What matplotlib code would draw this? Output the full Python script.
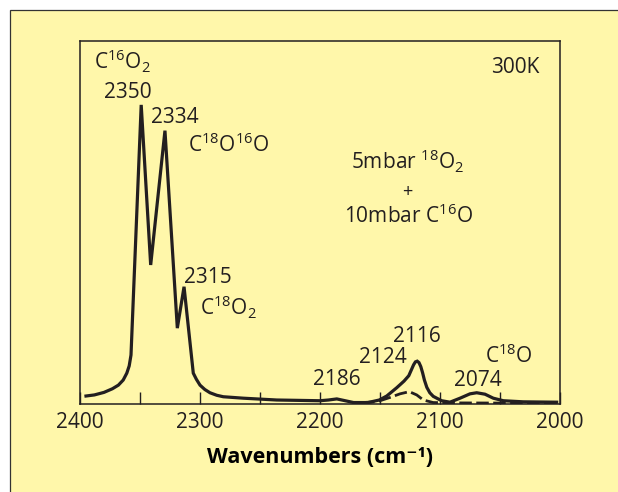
"""
IR spectrum of 18O2 + C16O at 300 K, redrawn in matplotlib.
"""
import matplotlib
matplotlib.use("Agg")
import matplotlib.pyplot as plt
from matplotlib.patches import Rectangle
from matplotlib.ticker import MultipleLocator

C_INK = "#231f20"
C_PAPER = "#fff7aa"

# solid trace: wavenumber (cm-1) vs absorbance (arb. units)
solid_wn = [2395, 2388, 2380, 2373, 2368, 2364, 2361, 2359, 2357.5, 2349,
            2341.1, 2329.2, 2318.9, 2313.3, 2305.6, 2303, 2300, 2296,
            2291.7, 2286, 2280.6, 2263.9, 2236.1, 2200, 2193, 2186, 2179,
            2172, 2160, 2150.6, 2144.4, 2136, 2130, 2126, 2123.6, 2122,
            2120.5, 2119, 2117.5, 2116, 2114.5, 2113, 2111, 2108.5, 2105.6,
            2098.6, 2091.7, 2083.3, 2075, 2069.4, 2062.5, 2055.6, 2047.2,
            2030.6, 2002.8]
solid_abs = [0.022, 0.025, 0.032, 0.042, 0.052, 0.066, 0.085, 0.105, 0.135,
             0.824, 0.383, 0.753, 0.209, 0.323, 0.085, 0.068, 0.052, 0.040,
             0.031, 0.024, 0.020, 0.016, 0.011, 0.009, 0.011, 0.014, 0.009,
             0.004, 0.004, 0.011, 0.022, 0.045, 0.063, 0.078, 0.096, 0.108,
             0.116, 0.118, 0.114, 0.103, 0.086, 0.066, 0.046, 0.031, 0.021,
             0.009, 0.005, 0.016, 0.028, 0.031, 0.027, 0.016, 0.009,
             0.006, 0.005]

# dashed trace (reference)
dash_wn = [2165, 2152.8, 2141.7, 2133.3, 2125.6, 2119.4, 2113.9, 2105.6,
           2086, 2001.4]
dash_abs = [0.004, 0.006, 0.018, 0.028, 0.034, 0.025, 0.011, 0.004,
            0.003, 0.002]

# annotations: text, x (cm-1), y (arb.)
labels = [
  (r"C$^{16}$O$_2$", 2365, 0.923),
  ("2350", 2360, 0.843),
  ("2334", 2320.8, 0.774),
  (r"C$^{18}$O$^{16}$O", 2276, 0.694),
  ("2315", 2293.6, 0.334),
  (r"C$^{18}$O$_2$", 2276.7, 0.245),
  ("300K", 2037, 0.911),
  (r"5mbar $^{18}$O$_2$", 2127, 0.645),
  (r"10mbar C$^{16}$O", 2126.4, 0.498),
  ("2186", 2185.8, 0.052),
  ("2124", 2147.5, 0.112),
  ("2116", 2119, 0.172),
  (r"C$^{18}$O", 2042.5, 0.112),
  ("2074", 2068.3, 0.050),
]

plt.rcParams.update({
  "font.family": ["Open Sans", "DejaVu Sans"],
  "font.size": 15,
  "mathtext.fontset": "custom",
  "mathtext.rm": "Open Sans",
  "mathtext.it": "Open Sans:italic",
  "mathtext.bf": "Open Sans:bold",
  "text.color": C_INK,
})

fig = plt.figure(figsize=(6.18, 4.92), dpi=100)
fig.patch.set_facecolor("white")
bg = Rectangle((10 / 618, -0.1), 1.2, 1.1 - 10 / 492,
               transform=fig.transFigure, facecolor=C_PAPER,
               edgecolor="#333333", linewidth=0.9, zorder=-10)
fig.add_artist(bg)

ax = fig.add_axes([80 / 618, 88 / 492, 480 / 618, 363 / 492])
ax.set_facecolor(C_PAPER)

ax.plot(solid_wn, solid_abs, color=C_INK, lw=2.3, solid_joinstyle="miter",
        zorder=3)
ax.plot(dash_wn, dash_abs, color=C_INK, lw=2.0, linestyle=(0, (4.5, 1.6)),
        zorder=2)

for txt, x, y in labels:
  ax.text(x, y, txt, ha="center", va="baseline", fontsize=15)
ax.text(2126.9, 0.585, "+", ha="center", va="center", fontsize=13)

ax.set_xlim(2400, 2000)
ax.set_ylim(0, 1)
ax.xaxis.set_major_locator(MultipleLocator(100))
ax.xaxis.set_minor_locator(MultipleLocator(50))
ax.tick_params(axis="x", which="both", direction="in", length=8.5,
               width=1.0, color=C_INK, labelcolor=C_INK, pad=6,
               labelsize=15)
ax.tick_params(axis="y", left=False, labelleft=False)
for s in ax.spines.values():
  s.set_linewidth(1.1)
  s.set_color(C_INK)

ax.set_xlabel("Wavenumbers (cm\u207b\u00b9)", fontsize=15.5,
              fontweight="bold", labelpad=10)

fig.savefig("out.png", dpi=100, facecolor="white")
